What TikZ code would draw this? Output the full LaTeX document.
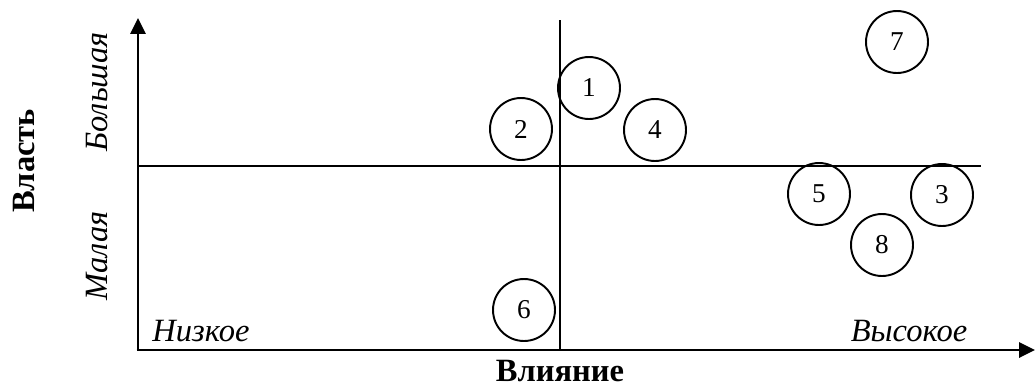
\documentclass[tikz,border=0pt]{standalone}
\usepackage{fontspec}
\setmainfont{Liberation Serif}
\usetikzlibrary{arrows.meta}

\tikzset{
    eixo/.style={line width=1.7pt, -{Triangle[length=9pt,width=8.5pt]}},
    meio/.style={line width=1.1pt},
    grupo/.style={circle, draw, line width=1.1pt, minimum size=1.24cm, inner sep=0pt,
        font=\fontsize{15.5}{17}\selectfont},
    rotulo/.style={font=\fontsize{18.5}{20}\selectfont\itshape},
    titulo/.style={font=\fontsize{18.5}{20}\selectfont\bfseries}
}

\begin{document}
\begin{tikzpicture}[x=0.02cm, y=-0.02cm]

    % moldura do desenho
    \useasboundingbox (0,0) rectangle (1036,386);

    % ==========================================
    % 1. EIXOS
    % ==========================================
    \coordinate (origem) at (138,350);
    \coordinate (topo) at (138,18);
    \coordinate (direita) at (1035,350);
    \draw[eixo] ([yshift=0.85pt]origem) -- (topo);
    \draw[eixo] ([xshift=-0.85pt]origem) -- (direita);

    % ==========================================
    % 2. LINHAS DIVISORIAS
    % ==========================================
    \coordinate (meioCima) at (560,20);
    \coordinate (meioBaixo) at (560,350);
    \coordinate (meioEsq) at (138,166);
    \coordinate (meioDir) at (981,166);
    \draw[meio] (meioCima) -- (meioBaixo);
    \draw[meio] (meioEsq) -- (meioDir);

    % ==========================================
    % 3. GRUPOS (circulos numerados)
    % ==========================================
    \node[grupo] (g1) at (589,88) {1};
    \node[grupo] (g2) at (521,129) {2};
    \node[grupo] (g3) at (942,195) {3};
    \node[grupo] (g4) at (655,130) {4};
    \node[grupo] (g5) at (819,194) {5};
    \node[grupo] (g6) at (524,310) {6};
    \node[grupo] (g7) at (897,42) {7};
    \node[grupo] (g8) at (882,245) {8};

    % ==========================================
    % 4. ROTULOS
    % ==========================================
    \node[titulo, rotate=90] (vlast) at (24,161) {Власть};
    \node[rotulo, rotate=90] (bolsh) at (97,92) {Большая};
    \node[rotulo, rotate=90] (malaya) at (97,256) {Малая};
    \node[rotulo] (nizk) at (201,331) {Низкое};
    \node[rotulo] (vysok) at (909,331) {Высокое};
    \node[titulo, anchor=base] (vliyan) at (560,381) {Влияние};

\end{tikzpicture}
\end{document}
